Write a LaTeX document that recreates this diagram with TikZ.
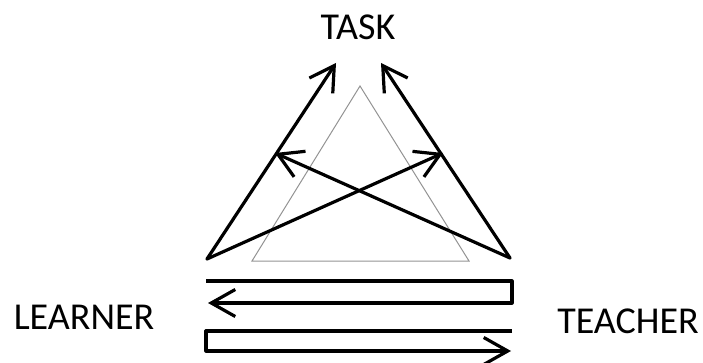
\documentclass[tikz,border=0pt]{standalone}
\usepackage{fontspec}
\setmainfont{Carlito}
\usetikzlibrary{arrows.meta}
\begin{document}
\begin{tikzpicture}[x=1pt,y=-1pt,
  conn/.style={line width=3.2pt,line cap=round,line join=round,
    -{Straight Barb[length=24pt,width=28pt,line width=3.2pt]}},
  flow/.style={line width=3.2pt,line join=round,
    -{Straight Barb[length=24pt,width=27pt,line width=3.2pt]}},
  lbl/.style={font=\fontsize{38}{42}\selectfont,text=black,inner sep=0pt}]
\useasboundingbox (0,0) rectangle (703,363);
% text labels
\node[lbl] (task) at (358,27) {TASK};
\node[lbl] (learner) at (84,317) {LEARNER};
\node[lbl] (teacher) at (628,321) {TEACHER};
% points
\coordinate (L) at (207,259);
\coordinate (R) at (510,258);
\coordinate (TL) at (336,63);
\coordinate (TR) at (381,63);
\coordinate (ML) at (275,153);
\coordinate (MR) at (443,153);
% gray triangle
\draw[gray!85,line width=1pt] (360,86) -- (469,261) -- (252,261) -- cycle;
% arrows
\draw[conn] (L) -- (TL);
\draw[conn] (R) -- (TR);
\draw[conn] (R) -- (ML);
\draw[conn] (L) -- (MR);
% bottom flows
\coordinate (a1) at (206,281);
\coordinate (a2) at (512,281);
\coordinate (a3) at (512,303);
\coordinate (a4) at (208,303);
\draw[flow] (a1) -- (a2) -- (a3) -- (a4);
\coordinate (b1) at (512,331);
\coordinate (b2) at (206,331);
\coordinate (b3) at (206,351);
\coordinate (b4) at (511,351);
\draw[flow] (b1) -- (b2) -- (b3) -- (b4);
\end{tikzpicture}
\end{document}
